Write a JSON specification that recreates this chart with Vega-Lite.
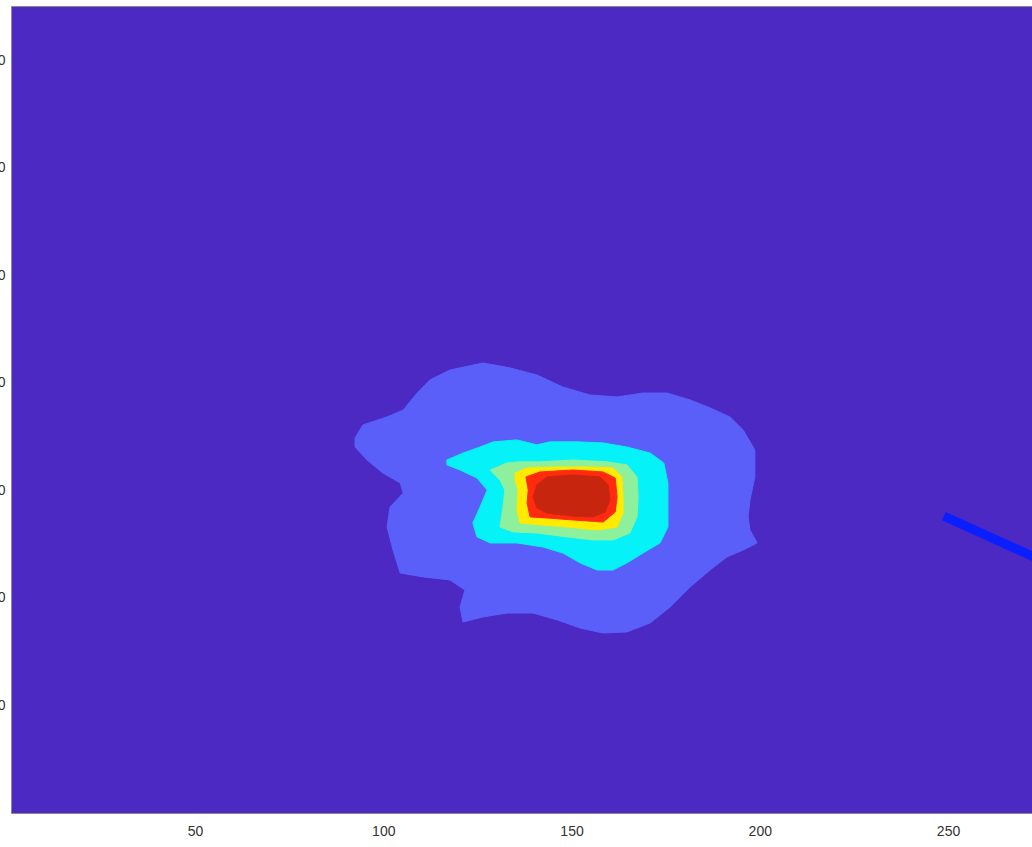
{
  "$schema": "https://vega.github.io/schema/vega-lite/v6.json",
  "width": 1021,
  "height": 807,
  "autosize": {"type": "none"},
  "padding": {"left": 11, "top": 6, "right": 0, "bottom": 34},
  "background": "white",
  "config": {
    "view": {"fill": "#4B29C2", "stroke": "#8a8a8a", "strokeWidth": 1},
    "axis": {"labelFont": "Liberation Sans", "labelFontSize": 14, "labelColor": "#333333", "ticks": false, "tickSize": 0, "domain": false, "grid": false, "title": null, "labelFlush": false, "labelOverlap": false}
  },
  "datasets": {
    "contours": [
      {"level": 1, "i": 1, "x": 92.5, "y": 174.4}, {"level": 1, "i": 2, "x": 94.6, "y": 180.5}, {"level": 1, "i": 3, "x": 101.0, "y": 184.2}, {"level": 1, "i": 4, "x": 105.3, "y": 187.4}, {"level": 1, "i": 5, "x": 109.0, "y": 195.3}, {"level": 1, "i": 6, "x": 112.4, "y": 201.4}, {"level": 1, "i": 7, "x": 117.7, "y": 206.0}, {"level": 1, "i": 8, "x": 126.5, "y": 209.3}, {"level": 1, "i": 9, "x": 133.7, "y": 207.0}, {"level": 1, "i": 10, "x": 140.8, "y": 203.7}, {"level": 1, "i": 11, "x": 147.7, "y": 198.1}, {"level": 1, "i": 12, "x": 154.9, "y": 194.4}, {"level": 1, "i": 13, "x": 162.1, "y": 193.5}, {"level": 1, "i": 14, "x": 169.0, "y": 195.3}, {"level": 1, "i": 15, "x": 175.4, "y": 195.3}, {"level": 1, "i": 16, "x": 181.5, "y": 192.1}, {"level": 1, "i": 17, "x": 186.8, "y": 188.4}, {"level": 1, "i": 18, "x": 192.1, "y": 184.2}, {"level": 1, "i": 19, "x": 195.6, "y": 178.1}, {"level": 1, "i": 20, "x": 198.7, "y": 168.8}, {"level": 1, "i": 21, "x": 198.7, "y": 156.3}, {"level": 1, "i": 22, "x": 197.4, "y": 145.6}, {"level": 1, "i": 23, "x": 196.9, "y": 137.7}, {"level": 1, "i": 24, "x": 197.4, "y": 131.6}, {"level": 1, "i": 25, "x": 199.3, "y": 125.6}, {"level": 1, "i": 26, "x": 195.6, "y": 122.3}, {"level": 1, "i": 27, "x": 191.3, "y": 119.1}, {"level": 1, "i": 28, "x": 186.8, "y": 113.0}, {"level": 1, "i": 29, "x": 181.5, "y": 105.1}, {"level": 1, "i": 30, "x": 176.2, "y": 95.8}, {"level": 1, "i": 31, "x": 170.9, "y": 88.4}, {"level": 1, "i": 32, "x": 164.7, "y": 84.2}, {"level": 1, "i": 33, "x": 158.4, "y": 83.7}, {"level": 1, "i": 34, "x": 152.3, "y": 86.0}, {"level": 1, "i": 35, "x": 146.2, "y": 89.8}, {"level": 1, "i": 36, "x": 139.8, "y": 93.0}, {"level": 1, "i": 37, "x": 132.9, "y": 93.0}, {"level": 1, "i": 38, "x": 126.5, "y": 91.2}, {"level": 1, "i": 39, "x": 121.2, "y": 88.8}, {"level": 1, "i": 40, "x": 120.4, "y": 95.8}, {"level": 1, "i": 41, "x": 121.7, "y": 103.7}, {"level": 1, "i": 42, "x": 117.7, "y": 108.4}, {"level": 1, "i": 43, "x": 110.6, "y": 109.8}, {"level": 1, "i": 44, "x": 104.5, "y": 111.6}, {"level": 1, "i": 45, "x": 102.6, "y": 122.3}, {"level": 1, "i": 46, "x": 101.0, "y": 133.0}, {"level": 1, "i": 47, "x": 101.8, "y": 142.3}, {"level": 1, "i": 48, "x": 105.3, "y": 148.8}, {"level": 1, "i": 49, "x": 104.5, "y": 153.5}, {"level": 1, "i": 50, "x": 99.9, "y": 158.1}, {"level": 1, "i": 51, "x": 95.7, "y": 164.2}, {"level": 1, "i": 52, "x": 92.5, "y": 170.2},
      {"level": 2, "i": 1, "x": 116.9, "y": 164.2}, {"level": 2, "i": 2, "x": 121.2, "y": 167.4}, {"level": 2, "i": 3, "x": 125.7, "y": 170.2}, {"level": 2, "i": 4, "x": 129.2, "y": 172.6}, {"level": 2, "i": 5, "x": 135.5, "y": 173.5}, {"level": 2, "i": 6, "x": 140.8, "y": 171.2}, {"level": 2, "i": 7, "x": 144.3, "y": 172.6}, {"level": 2, "i": 8, "x": 151.5, "y": 172.6}, {"level": 2, "i": 9, "x": 158.4, "y": 172.1}, {"level": 2, "i": 10, "x": 164.7, "y": 170.2}, {"level": 2, "i": 11, "x": 170.9, "y": 167.4}, {"level": 2, "i": 12, "x": 174.5, "y": 162.8}, {"level": 2, "i": 13, "x": 175.6, "y": 153.5}, {"level": 2, "i": 14, "x": 175.6, "y": 142.3}, {"level": 2, "i": 15, "x": 175.6, "y": 133.0}, {"level": 2, "i": 16, "x": 173.5, "y": 125.6}, {"level": 2, "i": 17, "x": 169.0, "y": 120.9}, {"level": 2, "i": 18, "x": 164.7, "y": 116.3}, {"level": 2, "i": 19, "x": 161.0, "y": 113.0}, {"level": 2, "i": 20, "x": 156.8, "y": 113.0}, {"level": 2, "i": 21, "x": 152.3, "y": 116.3}, {"level": 2, "i": 22, "x": 147.7, "y": 120.9}, {"level": 2, "i": 23, "x": 142.4, "y": 123.7}, {"level": 2, "i": 24, "x": 135.5, "y": 125.6}, {"level": 2, "i": 25, "x": 128.4, "y": 125.6}, {"level": 2, "i": 26, "x": 124.9, "y": 128.4}, {"level": 2, "i": 27, "x": 123.8, "y": 134.9}, {"level": 2, "i": 28, "x": 125.7, "y": 142.3}, {"level": 2, "i": 29, "x": 127.6, "y": 150.2}, {"level": 2, "i": 30, "x": 124.9, "y": 155.8}, {"level": 2, "i": 31, "x": 120.4, "y": 159.5}, {"level": 2, "i": 32, "x": 116.9, "y": 161.9},
      {"level": 3, "i": 1, "x": 128.4, "y": 159.5}, {"level": 3, "i": 2, "x": 132.9, "y": 162.8}, {"level": 3, "i": 3, "x": 136.3, "y": 163.3}, {"level": 3, "i": 4, "x": 141.6, "y": 163.3}, {"level": 3, "i": 5, "x": 150.4, "y": 164.2}, {"level": 3, "i": 6, "x": 159.4, "y": 163.3}, {"level": 3, "i": 7, "x": 164.7, "y": 161.9}, {"level": 3, "i": 8, "x": 167.4, "y": 156.3}, {"level": 3, "i": 9, "x": 167.7, "y": 147.0}, {"level": 3, "i": 10, "x": 167.4, "y": 137.7}, {"level": 3, "i": 11, "x": 165.5, "y": 130.2}, {"level": 3, "i": 12, "x": 161.0, "y": 127.0}, {"level": 3, "i": 13, "x": 155.7, "y": 127.0}, {"level": 3, "i": 14, "x": 148.8, "y": 128.4}, {"level": 3, "i": 15, "x": 140.8, "y": 130.2}, {"level": 3, "i": 16, "x": 134.5, "y": 130.7}, {"level": 3, "i": 17, "x": 131.0, "y": 133.0}, {"level": 3, "i": 18, "x": 131.8, "y": 142.3}, {"level": 3, "i": 19, "x": 132.3, "y": 150.2}, {"level": 3, "i": 20, "x": 131.0, "y": 154.9},
      {"level": 4, "i": 1, "x": 135.0, "y": 158.1}, {"level": 4, "i": 2, "x": 138.2, "y": 160.5}, {"level": 4, "i": 3, "x": 146.2, "y": 160.9}, {"level": 4, "i": 4, "x": 154.9, "y": 160.9}, {"level": 4, "i": 5, "x": 161.0, "y": 160.5}, {"level": 4, "i": 6, "x": 163.4, "y": 156.3}, {"level": 4, "i": 7, "x": 163.7, "y": 147.0}, {"level": 4, "i": 8, "x": 163.7, "y": 139.5}, {"level": 4, "i": 9, "x": 162.1, "y": 133.0}, {"level": 4, "i": 10, "x": 156.8, "y": 131.6}, {"level": 4, "i": 11, "x": 148.8, "y": 133.0}, {"level": 4, "i": 12, "x": 141.6, "y": 134.0}, {"level": 4, "i": 13, "x": 136.3, "y": 134.9}, {"level": 4, "i": 14, "x": 135.5, "y": 140.9}, {"level": 4, "i": 15, "x": 135.8, "y": 150.2}, {"level": 4, "i": 16, "x": 135.0, "y": 154.9},
      {"level": 5, "i": 1, "x": 137.9, "y": 156.3}, {"level": 5, "i": 2, "x": 141.6, "y": 158.6}, {"level": 5, "i": 3, "x": 150.4, "y": 159.5}, {"level": 5, "i": 4, "x": 158.4, "y": 158.6}, {"level": 5, "i": 5, "x": 161.6, "y": 155.8}, {"level": 5, "i": 6, "x": 162.1, "y": 147.0}, {"level": 5, "i": 7, "x": 161.6, "y": 140.0}, {"level": 5, "i": 8, "x": 158.4, "y": 135.3}, {"level": 5, "i": 9, "x": 150.4, "y": 136.3}, {"level": 5, "i": 10, "x": 143.5, "y": 137.2}, {"level": 5, "i": 11, "x": 139.0, "y": 137.7}, {"level": 5, "i": 12, "x": 138.2, "y": 144.2}, {"level": 5, "i": 13, "x": 138.5, "y": 150.2},
      {"level": 6, "i": 1, "x": 140.8, "y": 152.6}, {"level": 6, "i": 2, "x": 143.5, "y": 156.3}, {"level": 6, "i": 3, "x": 150.4, "y": 157.2}, {"level": 6, "i": 4, "x": 157.6, "y": 156.3}, {"level": 6, "i": 5, "x": 159.7, "y": 152.6}, {"level": 6, "i": 6, "x": 160.2, "y": 145.6}, {"level": 6, "i": 7, "x": 158.9, "y": 140.0}, {"level": 6, "i": 8, "x": 155.7, "y": 137.7}, {"level": 6, "i": 9, "x": 150.4, "y": 138.1}, {"level": 6, "i": 10, "x": 143.5, "y": 139.5}, {"level": 6, "i": 11, "x": 140.8, "y": 141.9}, {"level": 6, "i": 12, "x": 139.8, "y": 147.0}
    ],
    "bluepath": [
      {"i": 1, "x": 248.9, "y": 138.1},
      {"i": 2, "x": 285.0, "y": 109.4}
    ]
  },
  "data": {"name": "contours"},
  "encoding": {
    "x": {"field": "x", "type": "quantitative", "scale": {"domain": [1.13, 272.3], "nice": false, "zero": false}, "axis": {"values": [50, 100, 150, 200, 250], "labelPadding": 11, "orient": "bottom"}},
    "y": {"field": "y", "type": "quantitative", "scale": {"domain": [0, 375.3], "nice": false, "zero": false}, "axis": {"values": [50, 100, 150, 200, 250, 300, 350], "labelPadding": 6, "orient": "left"}},
    "order": {"field": "i", "type": "quantitative"}
  },
  "layer": [
    {"transform": [{"filter": "datum.level == 1"}], "mark": {"type": "line", "interpolate": "linear-closed", "fill": "#5B5FFA", "stroke": "#5B5FFA", "strokeWidth": 1}},
    {"transform": [{"filter": "datum.level == 2"}], "mark": {"type": "line", "interpolate": "linear-closed", "fill": "#05F2F8", "stroke": "#05F2F8", "strokeWidth": 1}},
    {"transform": [{"filter": "datum.level == 3"}], "mark": {"type": "line", "interpolate": "linear-closed", "fill": "#8CF09C", "stroke": "#8CF09C", "strokeWidth": 1}},
    {"transform": [{"filter": "datum.level == 4"}], "mark": {"type": "line", "interpolate": "linear-closed", "fill": "#FFEA00", "stroke": "#FFEA00", "strokeWidth": 1}},
    {"transform": [{"filter": "datum.level == 5"}], "mark": {"type": "line", "interpolate": "linear-closed", "fill": "#FF2A10", "stroke": "#FF2A10", "strokeWidth": 1}},
    {"transform": [{"filter": "datum.level == 6"}], "mark": {"type": "line", "interpolate": "linear-closed", "fill": "#C8250F", "stroke": "#C8250F", "strokeWidth": 1}},
    {"data": {"name": "bluepath"}, "mark": {"type": "line", "stroke": "#0A1EFF", "strokeWidth": 9, "strokeCap": "butt", "clip": true}}
  ]
}
